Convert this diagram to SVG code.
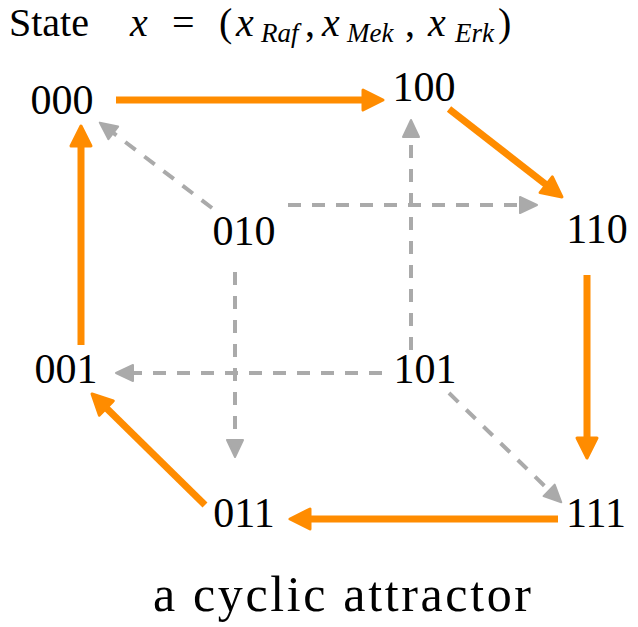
<svg xmlns="http://www.w3.org/2000/svg" width="638" height="627" viewBox="0 0 638 627">
<style>
.n{font-size:42px;text-anchor:middle}
.t{font-size:40px}
.i{font-style:italic}
.s{font-size:27px;font-style:italic}
.cap{font-size:50px;text-anchor:middle}
.o{stroke:#FF8C00;stroke-width:7;fill:none;marker-end:url(#ho)}
.g{stroke:#AAAAAA;stroke-width:4;fill:none;stroke-dasharray:13 11;marker-end:url(#hg)}
</style>
<defs>
<marker id="ho" markerUnits="userSpaceOnUse" orient="auto" markerWidth="30" markerHeight="30" refX="2" refY="13" viewBox="0 0 30 26">
<path d="M2,3 L22,13 L2,23 Z" fill="#FF8C00" stroke="#FF8C00" stroke-width="3" stroke-linejoin="round"/>
</marker>
<marker id="hg" markerUnits="userSpaceOnUse" orient="auto" markerWidth="26" markerHeight="24" refX="2" refY="12" viewBox="0 0 26 24">
<path d="M2,4 L19,12 L2,20 Z" fill="#AAAAAA" stroke="#AAAAAA" stroke-width="2" stroke-linejoin="round"/>
</marker>
</defs>
<g id="connectors">
<path class="g" d="M212,208 L113.3,132.9"/>
<path class="g" d="M288,205 L520,205"/>
<path class="g" d="M235,272 L235,440"/>
<path class="g" d="M411,350 L411,137"/>
<path class="g" d="M382,373 L133,373"/>
<path class="g" d="M449,393 L549.1,490.4"/>
<path class="o" d="M116,100 L363,100"/>
<path class="o" d="M449,109 L546.2,184.7"/>
<path class="o" d="M587,275 L587,438"/>
<path class="o" d="M558,519 L310,519"/>
<path class="o" d="M205,505 L106.3,408"/>
<path class="o" d="M81,345 L81,146"/>
</g>
<g font-family="Liberation Serif, Tinos, Times New Roman, DejaVu Serif, serif" fill="#000">
<g id="title"><text class="t" y="36"><tspan x="9">State</tspan><tspan class="i" x="130">x</tspan><tspan x="172">=</tspan><tspan x="219">(</tspan><tspan class="i" x="236">x</tspan><tspan class="s" x="261" dy="6">Raf</tspan><tspan x="305" dy="-6">,</tspan><tspan class="i" x="322">x</tspan><tspan class="s" x="347" dy="6">Mek</tspan><tspan x="405" dy="-6">,</tspan><tspan class="i" x="428">x</tspan><tspan class="s" x="455" dy="6">Erk</tspan><tspan x="498" dy="-6">)</tspan></text></g>
<g id="n000"><text class="n" x="62" y="114">000</text></g>
<g id="n100"><text class="n" x="424" y="101">100</text></g>
<g id="n010"><text class="n" x="244" y="245">010</text></g>
<g id="n110"><text class="n" x="597" y="243">110</text></g>
<g id="n001"><text class="n" x="66" y="383">001</text></g>
<g id="n101"><text class="n" x="425" y="383">101</text></g>
<g id="n011"><text class="n" x="244" y="527">011</text></g>
<g id="n111"><text class="n" x="596" y="527">111</text></g>
<g id="caption"><text class="cap" x="342" y="611" textLength="378" lengthAdjust="spacing">a cyclic attractor</text></g>
</g>
</svg>
